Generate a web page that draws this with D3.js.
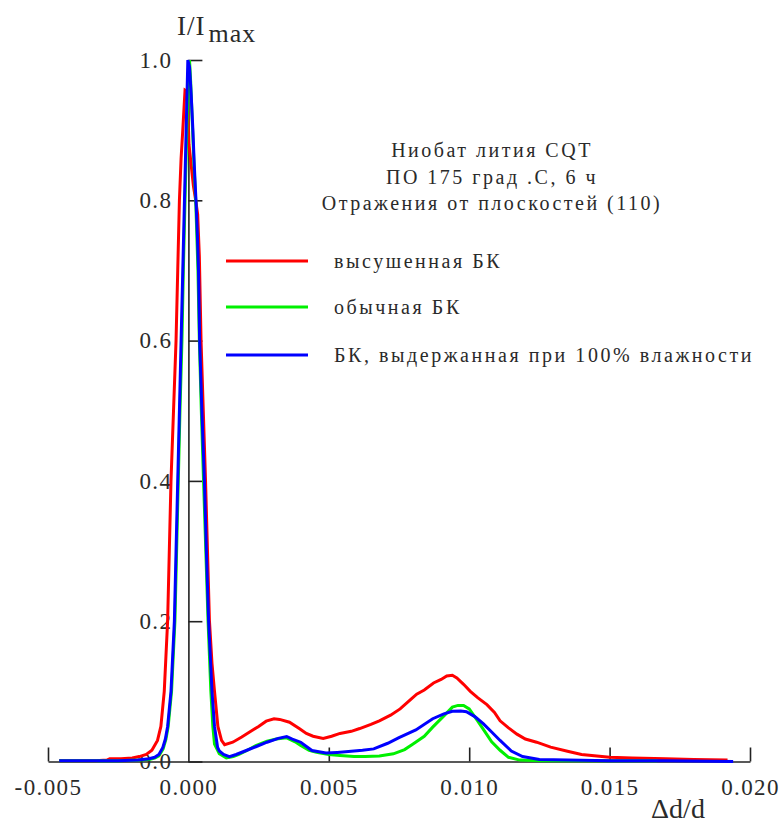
<!DOCTYPE html>
<html>
<head>
<meta charset="utf-8">
<script src="https://cdn.jsdelivr.net/npm/d3@7"></script>
<style>
  html, body { margin: 0; padding: 0; background: #fff; }
  svg text { font-family: "Liberation Serif", "Times New Roman", serif; fill: #2a2a2a; }
</style>
</head>
<body>
<svg id="chart" width="781" height="826"></svg>
<script>
// Axis ticks and labels
const xTicks = [-0.005, 0.000, 0.005, 0.010, 0.015, 0.020];
const xTickLabels = ["-0.005", "0.000", "0.005", "0.010", "0.015", "0.020"];
const yTicks = [0.0, 0.2, 0.4, 0.6, 0.8, 1.0];
const yTickLabels = ["0.0", "0.2", "0.4", "0.6", "0.8", "1.0"];

// Annotation and legend text
const titleLines = ["Ниобат лития CQT", "ПО 175 град .С, 6 ч", "Отражения от плоскостей (110)"];
const seriesNames = ["высушенная БК", "обычная БК", "БК, выдержанная при 100% влажности"];
const seriesColors = ["#ff0000", "#00f000", "#0000ff"];

// высушенная БК: Δd/d and I/Imax
const dryX = [-0.0046, -0.0040, -0.0033, -0.0029, -0.0028, -0.0024, -0.0020, -0.00175, -0.0015, -0.0013,
  -0.0011, -0.00098, -0.00086, -0.0008, -0.00074, -0.00068, -0.00062, -0.00053, -0.00044, -0.00038,
  -0.00032, -0.00026, -0.0002, -0.00012, -0.00004, 0.00002, 0.0001, 0.00018, 0.00026, 0.00033,
  0.00039, 0.00045, 0.00053, 0.00061, 0.00068, 0.00075, 0.00084, 0.00093, 0.00105, 0.00118,
  0.00129, 0.00158, 0.0019, 0.00218, 0.0025, 0.00277, 0.00305, 0.00325, 0.0036, 0.00396,
  0.0042, 0.00444, 0.0048, 0.0051, 0.0054, 0.0058, 0.0061, 0.0065, 0.0068, 0.0072,
  0.00754, 0.0079, 0.00813, 0.0084, 0.00873, 0.0090, 0.0092, 0.0094, 0.00956, 0.0098,
  0.01004, 0.0103, 0.01063, 0.0109, 0.0111, 0.0114, 0.0117, 0.0120, 0.0124, 0.0129,
  0.0135, 0.0140, 0.0150, 0.0158, 0.0170, 0.0180, 0.0192];
const dryY = [0.001, 0.001, 0.001, 0.002, 0.004, 0.004, 0.005, 0.007, 0.010, 0.016,
  0.030, 0.05, 0.10, 0.15, 0.20, 0.30, 0.40, 0.50, 0.60, 0.70,
  0.80, 0.86, 0.90, 0.957, 0.955, 0.88, 0.85, 0.82, 0.80, 0.78,
  0.72, 0.60, 0.50, 0.40, 0.30, 0.20, 0.14, 0.10, 0.05, 0.03,
  0.024, 0.0275, 0.035, 0.042, 0.050, 0.0575, 0.061, 0.060, 0.056, 0.0466,
  0.040, 0.036, 0.033, 0.036, 0.040, 0.043, 0.047, 0.053, 0.058, 0.066,
  0.075, 0.088, 0.096, 0.102, 0.112, 0.117, 0.122, 0.123, 0.119, 0.110,
  0.100, 0.091, 0.081, 0.070, 0.058, 0.048, 0.039, 0.032, 0.0275, 0.0205,
  0.0147, 0.010, 0.006, 0.005, 0.004, 0.003, 0.002];

// обычная БК
const normalX = [-0.0046, -0.0035, -0.0025, -0.0018, -0.0014, -0.0012, -0.00105, -0.0009, -0.0008, -0.00072,
  -0.00066, -0.0006, -0.00054, -0.00048, -0.00042, -0.00036, -0.0003, -0.00023, -0.00018, -0.00012,
  -0.00005, 0.0, 0.00004, 0.00008, 0.00012, 0.00016, 0.0002, 0.00026, 0.0003, 0.00034,
  0.00039, 0.00046, 0.00054, 0.00062, 0.0007, 0.00075, 0.0008, 0.00087, 0.00093, 0.0011,
  0.00135, 0.0016, 0.0018, 0.0021, 0.0024, 0.0028, 0.00313, 0.0035, 0.0038, 0.0040,
  0.0043, 0.00456, 0.0050, 0.0054, 0.0059, 0.0063, 0.0068, 0.0073, 0.0077, 0.0080,
  0.0084, 0.0087, 0.0091, 0.0094, 0.0096, 0.0098, 0.0100, 0.0103, 0.0106, 0.0108,
  0.0111, 0.0114, 0.0118, 0.0125, 0.0167];
const normalY = [0.001, 0.001, 0.001, 0.002, 0.003, 0.005, 0.008, 0.018, 0.032, 0.05,
  0.075, 0.10, 0.15, 0.20, 0.30, 0.40, 0.50, 0.60, 0.70, 0.80,
  0.91, 0.97, 1.0, 0.97, 0.93, 0.89, 0.85, 0.80, 0.75, 0.70,
  0.60, 0.50, 0.40, 0.30, 0.20, 0.15, 0.10, 0.05, 0.025, 0.011,
  0.005, 0.007, 0.010, 0.016, 0.0228, 0.029, 0.032, 0.0337, 0.028, 0.0228,
  0.016, 0.013, 0.010, 0.0086, 0.007, 0.007, 0.008, 0.011, 0.017, 0.025,
  0.036, 0.049, 0.065, 0.0775, 0.080, 0.080, 0.075, 0.058, 0.040, 0.028,
  0.016, 0.006, 0.002, 0.001, 0.001];

// БК, выдержанная при 100% влажности
const humidX = [-0.0046, -0.0035, -0.0025, -0.0018, -0.0014, -0.0012, -0.00105, -0.00091, -0.00082, -0.00074,
  -0.00068, -0.00062, -0.00056, -0.0005, -0.00044, -0.00038, -0.00032, -0.00026, -0.0002, -0.00014,
  -0.00008, -0.00002, 0.00004, 0.0001, 0.00016, 0.00021, 0.00027, 0.00032, 0.00036, 0.0004,
  0.00048, 0.00057, 0.00064, 0.00072, 0.00078, 0.00084, 0.00093, 0.00104, 0.0011, 0.00125,
  0.00146, 0.0017, 0.00206, 0.0024, 0.0028, 0.0032, 0.0035, 0.0037, 0.0040, 0.0044,
  0.0049, 0.0053, 0.0057, 0.0062, 0.0066, 0.0071, 0.0075, 0.0081, 0.0087, 0.0091,
  0.0094, 0.0097, 0.0099, 0.0102, 0.0105, 0.0108, 0.0111, 0.0115, 0.0119, 0.0125,
  0.0135, 0.0150, 0.0170, 0.0194];
const humidY = [0.001, 0.001, 0.001, 0.002, 0.004, 0.006, 0.010, 0.02, 0.032, 0.05,
  0.075, 0.10, 0.15, 0.20, 0.30, 0.40, 0.50, 0.60, 0.70, 0.80,
  0.90, 1.00, 0.99, 0.95, 0.90, 0.85, 0.80, 0.75, 0.70, 0.60,
  0.50, 0.40, 0.30, 0.20, 0.15, 0.10, 0.05, 0.02, 0.015, 0.010,
  0.007, 0.010, 0.0157, 0.021, 0.0275, 0.033, 0.0357, 0.032, 0.0275, 0.0157,
  0.012, 0.013, 0.0143, 0.016, 0.018, 0.026, 0.034, 0.045, 0.061, 0.068,
  0.0717, 0.072, 0.071, 0.064, 0.054, 0.042, 0.030, 0.015, 0.007, 0.003,
  0.002, 0.001, 0.001, 0.000];

const series = [
  { name: seriesNames[0], color: seriesColors[0], xs: dryX, ys: dryY },
  { name: seriesNames[1], color: seriesColors[1], xs: normalX, ys: normalY },
  { name: seriesNames[2], color: seriesColors[2], xs: humidX, ys: humidY }
];

const svg = d3.select("#chart");

const x = d3.scaleLinear().domain([-0.005, 0.020]).range([48, 750]);
const y = d3.scaleLinear().domain([0, 1]).range([761.5, 60]);

const axisColor = "#222";
const tickFont = "23px";

// x axis: ticks point up into the plot
const gx = svg.append("g")
  .attr("transform", `translate(0,${y(0)})`)
  .call(d3.axisBottom(x).tickValues(xTicks)
    .tickFormat((d, i) => xTickLabels[i])
    .tickSizeInner(-14).tickSizeOuter(0).tickPadding(17));

// y axis sits at Δd/d = 0, ticks point right
const gy = svg.append("g")
  .attr("transform", `translate(${x(0)},0)`)
  .call(d3.axisLeft(y).tickValues(yTicks)
    .tickFormat((d, i) => yTickLabels[i])
    .tickSizeInner(-14).tickSizeOuter(0).tickPadding(16));

[gx, gy].forEach(g => {
  g.attr("font-family", null);
  g.select(".domain").attr("stroke", axisColor).attr("stroke-width", 1.6);
  g.selectAll(".tick line").attr("stroke", axisColor).attr("stroke-width", 1.6);
  g.selectAll(".tick text")
    .attr("font-size", tickFont)
    .attr("letter-spacing", "1.4px")
    .attr("fill", "#2a2a2a");
});
// the 0.000 tick mark coincides with the vertical axis
gx.selectAll(".tick line").filter(d => d === 0).remove();

// curves
const line = d3.line()
  .x(d => x(d[0]))
  .y(d => y(d[1]))
  .curve(d3.curveLinear);

svg.append("g").selectAll("path")
  .data(series)
  .join("path")
  .attr("d", s => line(s.xs.map((v, i) => [v, s.ys[i]])))
  .attr("fill", "none")
  .attr("stroke", s => s.color)
  .attr("stroke-width", 3)
  .attr("stroke-linejoin", "miter")
  .attr("stroke-linecap", "butt");

// axis titles
const yTitle = svg.append("text").attr("x", 177).attr("y", 35)
  .attr("font-size", "27px").attr("letter-spacing", "1px");
yTitle.append("tspan").text("I/I");
yTitle.append("tspan").attr("dx", 3).attr("dy", 7).attr("font-size", "26px").text("max");

svg.append("text").attr("x", 678).attr("y", 818)
  .attr("text-anchor", "middle")
  .attr("font-size", "28px")
  .text("Δd/d");

// annotation block
svg.append("g").selectAll("text")
  .data(titleLines)
  .join("text")
  .attr("x", 492)
  .attr("y", (d, i) => 157 + i * 26.5)
  .attr("text-anchor", "middle")
  .attr("font-size", "20px")
  .attr("letter-spacing", "2.5px")
  .text(d => d);

// legend
const legendY = [261, 307, 355];
const lg = svg.append("g").selectAll("g")
  .data(series)
  .join("g")
  .attr("transform", (d, i) => `translate(0,${legendY[i]})`);
lg.append("line")
  .attr("x1", 226).attr("x2", 308)
  .attr("stroke", d => d.color)
  .attr("stroke-width", 3);
lg.append("text")
  .attr("x", 334).attr("y", 7)
  .attr("font-size", "20px")
  .attr("letter-spacing", "2.55px")
  .text(d => d.name);
</script>
</body>
</html>
